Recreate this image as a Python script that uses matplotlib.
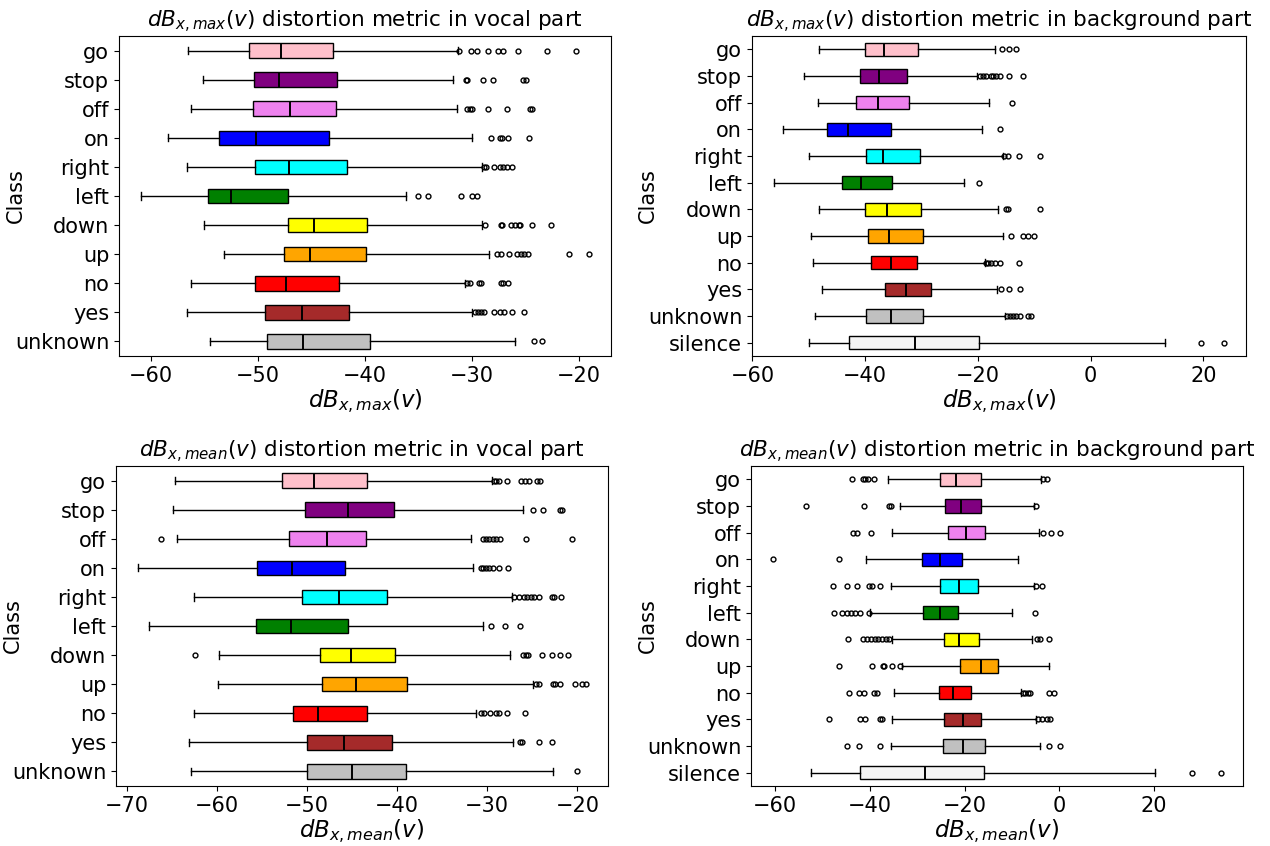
import matplotlib
matplotlib.use("Agg")
import matplotlib.pyplot as plt

# classes listed top to bottom as they appear on the chart
classes = ["go", "stop", "off", "on", "right", "left", "down", "up", "no", "yes", "unknown", "silence"]
colors = ["pink", "purple", "violet", "blue", "cyan", "green", "yellow", "orange", "red", "brown",
          "silver", "whitesmoke"]

# dB_x,max, vocal part (no silence class)
vmax_whislo = [-56.5, -55.1, -56.3, -58.45, -56.6, -60.9, -55.0, -53.2, -56.3, -56.6, -54.5]
vmax_q1 = [-50.8, -50.4, -50.5, -53.6, -50.3, -54.7, -47.15, -47.6, -50.3, -49.3, -49.2]
vmax_med = [-47.85, -48.0, -47.0, -50.2, -47.1, -52.5, -44.75, -45.1, -47.4, -45.9, -45.75]
vmax_q3 = [-43.0, -42.6, -42.7, -43.4, -41.7, -47.15, -39.8, -39.9, -42.4, -41.5, -39.55]
vmax_whishi = [-31.3, -31.8, -31.4, -30.0, -29.05, -36.2, -29.05, -28.4, -30.7, -30.0, -25.95]
vmax_fliers = [
    [-31.2, -30.1, -29.5, -28.5, -27.6, -27.1, -25.7, -23.0, -20.3],
    [-30.6, -30.5, -29.0, -28.0, -25.2, -25.0],
    [-30.5, -30.2, -30.0, -28.5, -26.7, -24.6, -24.4],
    [-28.2, -27.4, -27.2, -26.6, -24.7],
    [-28.9, -28.7, -27.9, -27.4, -27.1, -26.7, -26.3],
    [-35.0, -34.1, -31.05, -30.0, -29.5],
    [-28.8, -27.3, -27.2, -26.4, -26.0, -25.65, -25.5, -24.4, -22.6],
    [-27.7, -27.3, -26.5, -25.8, -25.4, -25.1, -24.8, -20.9, -19.1],
    [-30.5, -30.2, -29.35, -29.2, -27.3, -27.1, -26.65],
    [-29.7, -29.45, -29.2, -28.9, -27.95, -27.4, -27.05, -26.3, -25.1],
    [-24.2, -23.5],
]

# dB_x,max, background part
bmax_whislo = [-48.15, -50.8, -48.4, -54.5, -50.0, -56.1, -48.15, -49.6, -49.2, -47.6, -48.95, -49.9]
bmax_q1 = [-40.0, -41.0, -41.7, -46.8, -39.9, -44.15, -40.0, -39.5, -39.0, -36.4, -39.8, -42.9]
bmax_med = [-36.65, -37.5, -37.7, -43.0, -36.8, -40.65, -36.2, -35.7, -35.4, -32.8, -35.4, -31.2]
bmax_q3 = [-30.55, -32.6, -32.15, -35.5, -30.2, -35.2, -30.0, -29.7, -30.8, -28.4, -29.8, -19.85]
bmax_whishi = [-17.0, -20.1, -18.0, -19.35, -15.6, -22.4, -16.4, -15.55, -18.8, -16.65, -15.1, 13.2]
bmax_fliers = [
    [-15.7, -14.5, -13.2],
    [-19.6, -19.05, -18.6, -17.75, -17.3, -16.7, -16.1, -14.5, -11.9],
    [-13.9],
    [-16.0],
    [-15.3, -14.7, -12.65, -8.9],
    [-19.85],
    [-15.0, -14.7, -8.9],
    [-14.2, -11.9, -11.05, -10.1],
    [-18.6, -18.2, -17.6, -17.0, -16.0, -12.65],
    [-15.85, -14.4, -12.5],
    [-14.8, -14.25, -13.7, -13.2, -12.5, -11.05, -10.5],
    [19.6, 23.6],
]

# dB_x,mean, vocal part
vmean_whislo = [-64.65, -64.9, -64.4, -68.7, -62.55, -67.55, -59.8, -59.9, -62.55, -63.1, -62.9]
vmean_q1 = [-52.8, -50.2, -51.95, -55.5, -50.5, -55.6, -48.6, -48.3, -51.5, -49.97, -50.0]
vmean_med = [-49.2, -45.45, -47.8, -51.7, -46.5, -51.8, -45.15, -44.55, -48.75, -45.9, -45.05]
vmean_q3 = [-43.3, -40.3, -43.5, -45.8, -41.1, -45.4, -40.2, -38.9, -43.35, -40.6, -39.0]
vmean_whishi = [-29.5, -26.0, -31.8, -31.6, -27.3, -30.5, -27.5, -24.95, -31.3, -27.1, -22.7]
vmean_fliers = [
    [-29.25, -29.0, -28.7, -27.85, -26.3, -25.8, -25.4, -24.5, -24.2],
    [-24.95, -23.8, -21.9, -21.7],
    [-66.2, -30.5, -30.1, -29.8, -29.4, -29.0, -28.6, -25.7, -20.6],
    [-30.75, -30.5, -30.1, -29.8, -29.35, -28.7, -27.7],
    [-27.0, -26.5, -25.9, -25.6, -25.2, -24.8, -24.3, -22.8, -22.65, -21.8],
    [-29.6, -28.05, -26.4],
    [-62.4, -26.05, -25.75, -25.5, -23.9, -22.85, -21.9, -21.1],
    [-24.6, -24.3, -22.75, -22.5, -21.9, -20.3, -19.5, -19.1],
    [-30.65, -30.4, -29.7, -29.0, -28.7, -27.85, -25.8],
    [-26.35, -26.1, -24.25, -22.8],
    [-20.1],
]

# dB_x,mean, background part
bmean_whislo = [-36.1, -33.7, -35.25, -40.8, -35.6, -39.9, -35.4, -33.2, -34.9, -35.4, -35.6, -52.4]
bmean_q1 = [-25.3, -24.05, -23.5, -28.9, -25.3, -28.8, -24.4, -21.0, -25.4, -24.3, -24.5, -42.15]
bmean_med = [-21.8, -20.8, -19.8, -25.3, -21.1, -25.3, -21.1, -16.6, -22.5, -20.4, -20.4, -28.3]
bmean_q3 = [-16.6, -16.6, -15.8, -20.5, -17.2, -21.3, -16.9, -12.9, -18.55, -16.55, -15.8, -15.95]
bmean_whishi = [-3.9, -5.3, -4.4, -8.7, -5.4, -10.0, -5.8, -2.1, -8.0, -4.9, -4.05, 20.25]
bmean_fliers = [
    [-43.8, -41.5, -40.95, -40.3, -39.1, -3.4, -2.7],
    [-53.5, -41.3, -36.0, -35.6, -5.0],
    [-43.6, -42.7, -39.75, -3.5, -1.8, 0.1],
    [-60.4, -46.55],
    [-47.8, -44.8, -42.8, -40.2, -39.5, -37.85, -4.9, -3.7],
    [-47.6, -46.0, -44.8, -44.0, -43.1, -42.0, -40.1, -5.1],
    [-44.7, -41.55, -40.6, -39.75, -38.9, -38.2, -37.5, -36.7, -35.95, -4.75, -4.05, -2.15],
    [-46.5, -39.5, -37.3, -37.0, -35.4, -33.7],
    [-44.4, -42.3, -41.3, -39.05, -38.5, -7.7, -7.2, -6.6, -6.1, -2.15, -1.1],
    [-48.6, -42.15, -41.0, -37.85, -37.5, -4.6, -3.7, -2.7, -2.0],
    [-44.9, -42.3, -37.9, -2.15, 0.1],
    [28.0, 34.05],
]


def draw(ax, whislo, q1, med, q3, whishi, fliers, title, xlabel):
    n = len(med)
    stats = []
    for i in range(n):
        stats.append(dict(label=classes[i], whislo=whislo[i], q1=q1[i], med=med[i],
                          q3=q3[i], whishi=whishi[i], fliers=fliers[i]))
    # first entry goes on top
    stats = stats[::-1]
    bp = ax.bxp(stats, orientation="horizontal", patch_artist=True,
                medianprops=dict(color="black", linewidth=1.4),
                flierprops=dict(marker="o", markersize=3.5, markerfacecolor="none",
                                markeredgecolor="black", markeredgewidth=1.0))
    for patch, c in zip(bp["boxes"], colors[:n][::-1]):
        patch.set_facecolor(c)
        patch.set_edgecolor("black")
    ax.set_title(title, fontsize=15.5)
    ax.set_xlabel(xlabel, fontsize=16.5, labelpad=1)
    ax.set_ylabel("Class", fontsize=15)
    ax.yaxis.set_label_coords(-0.19, 0.5)
    ax.tick_params(labelsize=15)


fig = plt.figure(figsize=(12.7, 8.46), dpi=100)
ax1 = fig.add_axes([0.0937, 0.5792, 0.3874, 0.3783])
ax2 = fig.add_axes([0.5921, 0.5792, 0.3890, 0.3783])
ax3 = fig.add_axes([0.0913, 0.0709, 0.3874, 0.3783])
ax4 = fig.add_axes([0.5913, 0.0709, 0.3874, 0.3783])

draw(ax1, vmax_whislo, vmax_q1, vmax_med, vmax_q3, vmax_whishi, vmax_fliers,
     r"$dB_{x,max}(v)$ distortion metric in vocal part", r"$dB_{x,max}(v)$")
draw(ax2, bmax_whislo, bmax_q1, bmax_med, bmax_q3, bmax_whishi, bmax_fliers,
     r"$dB_{x,max}(v)$ distortion metric in background part", r"$dB_{x,max}(v)$")
draw(ax3, vmean_whislo, vmean_q1, vmean_med, vmean_q3, vmean_whishi, vmean_fliers,
     r"$dB_{x,mean}(v)$ distortion metric in vocal part", r"$dB_{x,mean}(v)$")
draw(ax4, bmean_whislo, bmean_q1, bmean_med, bmean_q3, bmean_whishi, bmean_fliers,
     r"$dB_{x,mean}(v)$ distortion metric in background part", r"$dB_{x,mean}(v)$")

fig.savefig("out.png", dpi=100)
